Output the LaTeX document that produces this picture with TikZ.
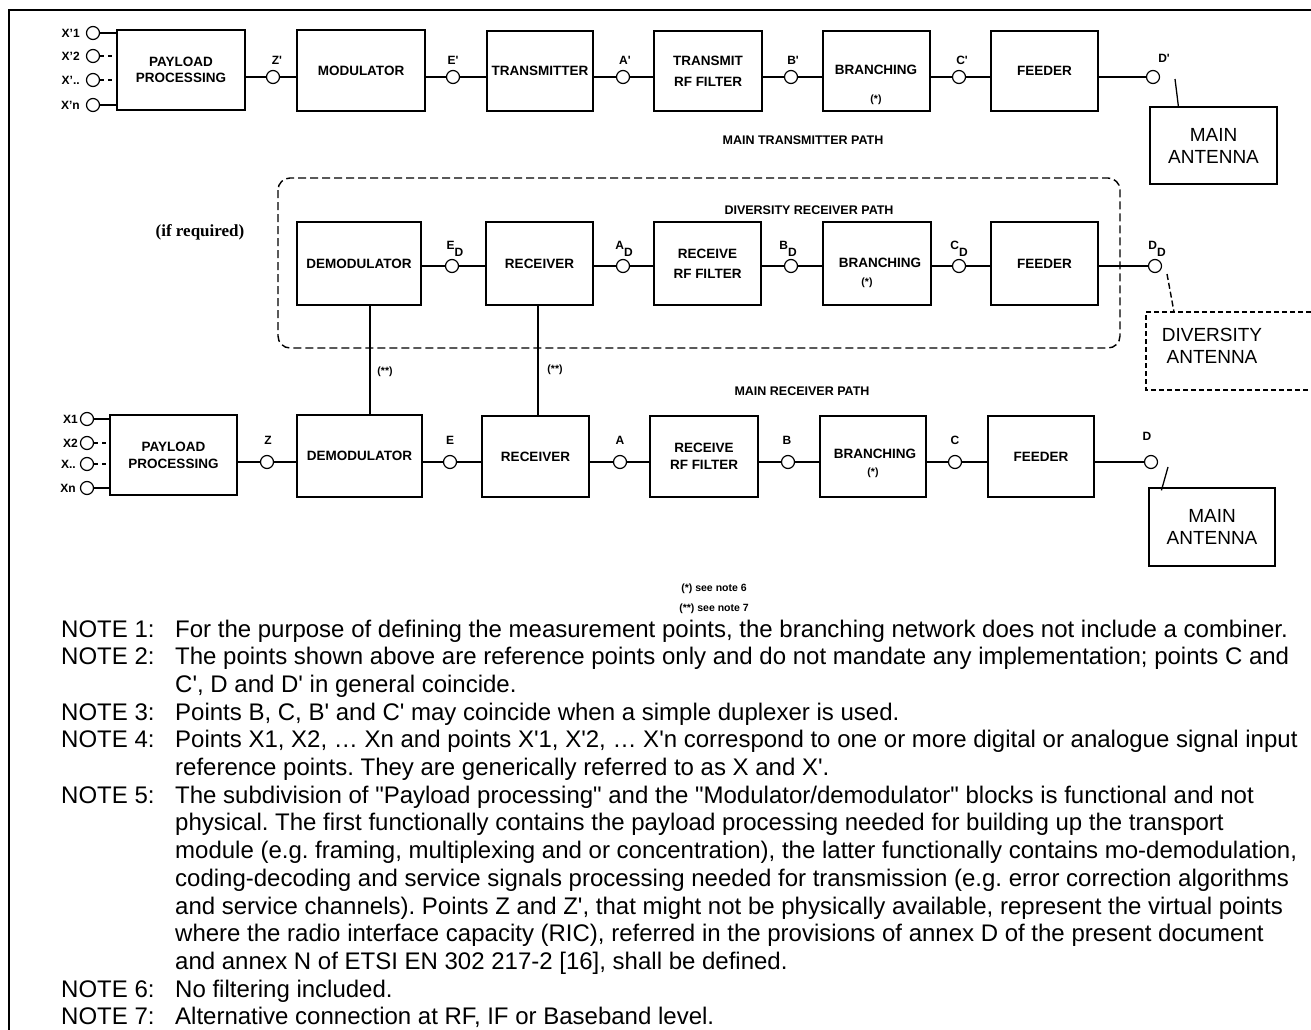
\documentclass[tikz,border=0pt]{standalone}
\usepackage{fontspec}
\setmainfont{Liberation Sans}
\newfontfamily\tnr{Liberation Serif}
\usetikzlibrary{calc}
\newcommand\sq{\textquotesingle}
\newcommand\dq{\textquotedbl}
\frenchspacing
\begin{document}
\begin{tikzpicture}[x=1pt,y=-1pt,
  wire/.style={line width=1.3pt},
  blk/.style={draw, line width=1.3pt, font=\fontsize{13.5}{16}\selectfont\bfseries, align=center, inner sep=0},
  ant/.style={draw, line width=1.2pt, font=\fontsize{19}{22}\selectfont, align=center, inner sep=0},
  pt/.style={circle, draw, fill=white, line width=1.2pt, inner sep=0, minimum size=13pt},
  lab/.style={font=\fontsize{12}{14}\selectfont\bfseries, inner sep=0},
  star/.style={font=\fontsize{10.5}{12}\selectfont\bfseries, inner sep=0},
  pathlab/.style={font=\fontsize{12.5}{14}\selectfont\bfseries, inner sep=0},
  dashpat/.style={line width=1.4pt, dash pattern=on 8pt off 4pt},
  shortdash/.style={line width=1.3pt, dash pattern=on 4pt off 4pt}
]
\useasboundingbox (0,0) rectangle (1311,1030);
\fill[white] (0,0) rectangle (1311,1030);
% frame
\draw[line width=2pt] (9,1030) -- (9,10) -- (1311,10);

% ---------------- TOP ROW (transmitter) ----------------
\node[blk, minimum width=128, minimum height=80] (ppT) at (181,70) {PAYLOAD\\PROCESSING};
\node[blk, minimum width=128, minimum height=81] (modT) at (361,70.5) {MODULATOR};
\node[blk, minimum width=106, minimum height=80] (txT) at (540,71) {TRANSMITTER};
\node[blk, minimum width=108, minimum height=80] (rfT) at (708,71) {TRANSMIT\\[5pt]RF FILTER};
\node[blk, minimum width=107, minimum height=80] (brT) at (876.5,71) {};
\node[blk, inner sep=0, draw=none] (brTt) at (876,70) {BRANCHING};
\node[star] (brTs) at (876,100) {(*)};
\node[blk, minimum width=107, minimum height=80] (fdT) at (1044.5,71) {FEEDER};

\node[pt] (x1T) at (93,33) {};
\node[pt] (x2T) at (93,56) {};
\node[pt] (x3T) at (93,80) {};
\node[pt] (x4T) at (93,105) {};
\node[lab, anchor=east] at ([xshift=-6]x1T.west) {X'1};
\node[lab, anchor=east] at ([xshift=-6]x2T.west) {X'2};
\node[lab, anchor=east] at ([xshift=-6]x3T.west) {X'..};
\node[lab, anchor=east] at ([xshift=-6]x4T.west) {X'n};
\draw[wire] (x1T.east) -- (x1T -| ppT.west);
\draw[shortdash] (x2T.east) -- (x2T -| ppT.west);
\draw[shortdash] (x3T.east) -- (x3T -| ppT.west);
\draw[wire] (x4T.east) -- (x4T -| ppT.west);

\node[pt] (zT) at (273,77) {};
\node[pt] (eT) at (453,77) {};
\node[pt] (aT) at (623,77) {};
\node[pt] (bT) at (791,77) {};
\node[pt] (cT) at (959,77) {};
\node[pt] (dT) at (1153,77) {};
\node[lab] at (277,60) {Z\sq};
\node[lab] at (453,60) {E\sq};
\node[lab] at (625,60) {A\sq};
\node[lab] at (793,60) {B\sq};
\node[lab] at (962,60) {C\sq};
\node[lab] at (1164,58) {D\sq};
\draw[wire] (zT -| ppT.east) -- (zT.west) (zT.east) -- (zT -| modT.west);
\draw[wire] (eT -| modT.east) -- (eT.west) (eT.east) -- (eT -| txT.west);
\draw[wire] (aT -| txT.east) -- (aT.west) (aT.east) -- (aT -| rfT.west);
\draw[wire] (bT -| rfT.east) -- (bT.west) (bT.east) -- (bT -| brT.west);
\draw[wire] (cT -| brT.east) -- (cT.west) (cT.east) -- (cT -| fdT.west);
\draw[wire] (dT -| fdT.east) -- (dT.west);

\node[ant, minimum width=127, minimum height=77] (antT) at (1213.5,145.5) {MAIN\\ANTENNA};
\coordinate (lkT) at (1175,79);
\draw[wire] (lkT) -- ($(antT.north west)+(29,0)$);
\node[pathlab] at (803,140) {MAIN TRANSMITTER PATH};

% ---------------- DIVERSITY ----------------
\draw[dashpat, rounded corners=12pt] (278,178) rectangle (1120,348);
\node[font=\fontsize{17}{20}\selectfont\tnr\bfseries, inner sep=0] at (200,232) {(if required)};
\node[pathlab] at (809,210) {DIVERSITY RECEIVER PATH};

\node[blk, minimum width=124, minimum height=83] (demD) at (359,263.5) {DEMODULATOR};
\node[blk, minimum width=107, minimum height=83] (rxD) at (539.5,263.5) {RECEIVER};
\node[blk, minimum width=107, minimum height=83] (rfD) at (707.5,263.5) {RECEIVE\\[4pt]RF FILTER};
\node[blk, minimum width=108, minimum height=83] (brD) at (877,263.5) {};
\node[blk, draw=none] (brDt) at (880,263) {BRANCHING};
\node[star] (brDs) at (867,283) {(*)};
\node[blk, minimum width=107, minimum height=83] (fdD) at (1044.5,263.5) {FEEDER};

\node[pt] (eD) at (452,266) {};
\node[pt] (aD) at (623,266) {};
\node[pt] (bD) at (791,266) {};
\node[pt] (cD) at (959,266) {};
\node[pt] (dD) at (1155,266) {};
\node[lab, anchor=base] at (455,249) {E\raisebox{-7pt}{D}};
\node[lab, anchor=base] at (624,249) {A\raisebox{-7pt}{D}};
\node[lab, anchor=base] at (788,249) {B\raisebox{-7pt}{D}};
\node[lab, anchor=base] at (959,249) {C\raisebox{-7pt}{D}};
\node[lab, anchor=base] at (1157,249) {D\raisebox{-7pt}{D}};
\draw[wire] (eD -| demD.east) -- (eD.west) (eD.east) -- (eD -| rxD.west);
\draw[wire] (aD -| rxD.east) -- (aD.west) (aD.east) -- (aD -| rfD.west);
\draw[wire] (bD -| rfD.east) -- (bD.west) (bD.east) -- (bD -| brD.west);
\draw[wire] (cD -| brD.east) -- (cD.west) (cD.east) -- (cD -| fdD.west);
\draw[wire] (dD -| fdD.east) -- (dD.west);

\coordinate (lkD) at (1167,274);
\coordinate (antDtop) at (1174,312);
\draw[line width=1.4pt, dash pattern=on 6pt off 3pt] (lkD) -- (antDtop);
\draw[line width=1.4pt, dash pattern=on 5pt off 3pt] (1311,312) -- (1146,312) -- (1146,390) -- (1311,390);
\node[font=\fontsize{19}{22}\selectfont, align=center, inner sep=0] (antD) at (1212,346) {DIVERSITY\\ANTENNA};

\node[pathlab] at (802,391) {MAIN RECEIVER PATH};

% ---------------- BOTTOM ROW (receiver) ----------------
\node[blk, minimum width=127, minimum height=80] (ppB) at (173.5,455) {PAYLOAD\\[1pt]PROCESSING};
\node[blk, minimum width=125, minimum height=82] (demB) at (359.5,456) {DEMODULATOR};
\node[blk, minimum width=107, minimum height=81] (rxB) at (535.5,456.5) {RECEIVER};
\node[blk, minimum width=108, minimum height=81] (rfB) at (704,456.5) {RECEIVE\\[1pt]RF FILTER};
\node[blk, minimum width=106, minimum height=81] (brB) at (873,456.5) {};
\node[blk, draw=none] (brBt) at (875,454) {BRANCHING};
\node[star] (brBs) at (873,473) {(*)};
\node[blk, minimum width=106, minimum height=81] (fdB) at (1041,456.5) {FEEDER};

\node[pt] (x1B) at (87,419) {};
\node[pt] (x2B) at (87,443) {};
\node[pt] (x3B) at (87,464) {};
\node[pt] (x4B) at (87,488) {};
\node[lab, anchor=east] at ([xshift=-2]x1B.west) {X1};
\node[lab, anchor=east] at ([xshift=-2]x2B.west) {X2};
\node[lab, anchor=east] at ([xshift=-4]x3B.west) {X..};
\node[lab, anchor=east] at ([xshift=-4]x4B.west) {Xn};
\draw[wire] (x1B.east) -- (x1B -| ppB.west);
\draw[shortdash] (x2B.east) -- (x2B -| ppB.west);
\draw[shortdash] (x3B.east) -- (x3B -| ppB.west);
\draw[wire] (x4B.east) -- (x4B -| ppB.west);

\node[pt] (zB) at (267,462) {};
\node[pt] (eB) at (450,462) {};
\node[pt] (aB) at (620,462) {};
\node[pt] (bB) at (788,462) {};
\node[pt] (cB) at (955,462) {};
\node[pt] (dB) at (1151,462) {};
\node[lab] at (268,440) {Z};
\node[lab] at (450,440) {E};
\node[lab] at (620,440) {A};
\node[lab] at (787,440) {B};
\node[lab] at (955,440) {C};
\node[lab] at (1147,436) {D};
\draw[wire] (zB -| ppB.east) -- (zB.west) (zB.east) -- (zB -| demB.west);
\draw[wire] (eB -| demB.east) -- (eB.west) (eB.east) -- (eB -| rxB.west);
\draw[wire] (aB -| rxB.east) -- (aB.west) (aB.east) -- (aB -| rfB.west);
\draw[wire] (bB -| rfB.east) -- (bB.west) (bB.east) -- (bB -| brB.west);
\draw[wire] (cB -| brB.east) -- (cB.west) (cB.east) -- (cB -| fdB.west);
\draw[wire] (dB -| fdB.east) -- (dB.west);

\node[ant, minimum width=126, minimum height=78] (antB) at (1212,527) {MAIN\\ANTENNA};
\coordinate (lkB) at (1168,467);
\draw[wire] (lkB) -- ($(antB.north west)+(13,3)$);

% vertical alternative connections
\coordinate (v1) at (370,0);
\coordinate (v2) at (538,0);
\draw[wire] (v1 |- demD.south) -- (v1 |- demB.north);
\draw[wire] (v2 |- rxD.south) -- (v2 |- rxB.north);
\node[star] at (385,372) {(**)};
\node[star] at (555,370) {(**)};

% footnotes
\node[star] at (714,589) {(*) see note 6};
\node[star] at (714,609) {(**) see note 7};

% notes
\node[anchor=north west, inner sep=0, font=\fontsize{24}{27.7}\selectfont] (notes) at (61,617.5) {%
\begin{tabular}{@{}p{114pt}@{}l@{}}
NOTE 1: & For the purpose of defining the measurement points, the branching network does not include a combiner.\\
NOTE 2: & The points shown above are reference points only and do not mandate any implementation; points C and\\
 & C\sq, D and D\sq{} in general coincide.\\
NOTE 3: & Points B, C, B\sq{} and C\sq{} may coincide when a simple duplexer is used.\\
NOTE 4: & Points X1, X2, … Xn and points X\sq1, X\sq2, … X\sq n correspond to one or more digital or analogue signal input\\
 & reference points. They are generically referred to as X and X\sq.\\
NOTE 5: & The subdivision of \dq Payload processing\dq{} and the \dq Modulator/demodulator\dq{} blocks is functional and not\\
 & physical. The first functionally contains the payload processing needed for building up the transport\\
 & module (e.g. framing, multiplexing and or concentration), the latter functionally contains mo-demodulation,\\
 & coding-decoding and service signals processing needed for transmission (e.g. error correction algorithms\\
 & and service channels). Points Z and Z\sq, that might not be physically available, represent the virtual points\\
 & where the radio interface capacity (RIC), referred in the provisions of annex D of the present document\\
 & and annex N of ETSI EN 302 217-2 [16], shall be defined.\\
NOTE 6: & No filtering included.\\
NOTE 7: & Alternative connection at RF, IF or Baseband level.
\end{tabular}};
\end{tikzpicture}
\end{document}
